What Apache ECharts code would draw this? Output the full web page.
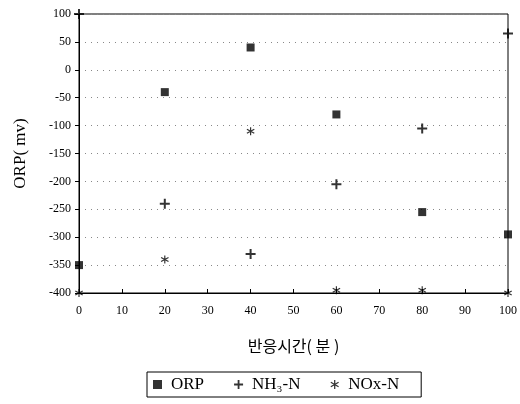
<!DOCTYPE html>
<html>
<head>
<meta charset="utf-8">
<script src="https://cdn.jsdelivr.net/npm/echarts@6/dist/echarts.min.js"></script>
<style>
  html, body { margin: 0; padding: 0; background: #fff; }
  #chart { width: 520px; height: 404px; }
</style>
</head>
<body>
<div id="chart"></div>
<script>
// 반응시간(분)
const times = [0, 20, 40, 60, 80, 100];
const orp = [-350, -40, 40, -80, -255, -295];
const nh3n = [100, -240, -330, -205, -105, 65];
const noxn = [-400, -340, -110, -395, -395, -400];
const seriesNames = ['ORP', 'NH₃-N', 'NOx-N'];

const plusPath = 'path://M4,0h2v4h4v2h-4v4h-2v-4h-4v-2h4z';
const starPath = 'path://M4.3,0h1.4v10h-1.4z' +
  'M1.02,1.89L9.68,6.89L8.98,8.11L0.32,3.11z' +
  'M8.98,1.89L9.68,3.11L1.02,8.11L0.32,6.89z';

function pairs(ys) {
  return times.map((t, i) => [t, ys[i]]);
}

const serif = 'Liberation Serif';
const chart = echarts.init(document.getElementById('chart'));

const option = {
  backgroundColor: '#fff',
  animation: false,
  grid: {
    left: 79,
    right: 12,
    top: 14,
    bottom: 111,
    show: true,
    borderColor: '#000',
    borderWidth: 1
  },
  legend: {
    data: seriesNames,
    left: 147,
    top: 372,
    orient: 'horizontal',
    borderColor: '#000',
    borderWidth: 1,
    padding: [4, 22, 4, 6],
    itemGap: 30,
    itemWidth: 9,
    itemHeight: 9,
    textStyle: { fontFamily: serif, fontSize: 17, color: '#000', padding: [0, 0, 0, 4] }
  },
  xAxis: {
    type: 'value',
    min: 0,
    max: 100,
    interval: 10,
    name: '반응시간( 분 )',
    nameLocation: 'middle',
    nameGap: 45,
    nameTextStyle: { fontFamily: 'Noto Sans CJK KR', fontSize: 16, color: '#000' },
    axisLine: { show: true, onZero: false, lineStyle: { color: '#000' } },
    axisTick: { show: true, inside: true, length: 4, lineStyle: { color: '#000' } },
    axisLabel: { fontFamily: serif, fontSize: 12, color: '#000', margin: 12 },
    splitLine: { show: false }
  },
  yAxis: {
    type: 'value',
    min: -400,
    max: 100,
    interval: 50,
    name: 'ORP( mv)',
    nameLocation: 'middle',
    nameGap: 50,
    nameTextStyle: { fontFamily: serif, fontSize: 17, color: '#000' },
    axisLine: { show: true, onZero: false, lineStyle: { color: '#000' } },
    axisTick: { show: true, length: 4, lineStyle: { color: '#000' } },
    axisLabel: { fontFamily: serif, fontSize: 12, color: '#000', margin: 8 },
    splitLine: { show: true, lineStyle: { color: '#888', type: [1, 5], width: 1 } }
  },
  series: [
    {
      name: seriesNames[0],
      type: 'scatter',
      clip: false,
      symbol: 'rect',
      symbolSize: 8,
      itemStyle: { color: '#000' },
      data: pairs(orp)
    },
    {
      name: seriesNames[1],
      type: 'scatter',
      clip: false,
      symbol: plusPath,
      symbolSize: 10,
      itemStyle: { color: '#000' },
      data: pairs(nh3n)
    },
    {
      name: seriesNames[2],
      type: 'scatter',
      clip: false,
      symbol: starPath,
      symbolSize: 8,
      itemStyle: { color: '#000' },
      data: pairs(noxn)
    }
  ]
};

chart.setOption(option);
</script>
</body>
</html>
